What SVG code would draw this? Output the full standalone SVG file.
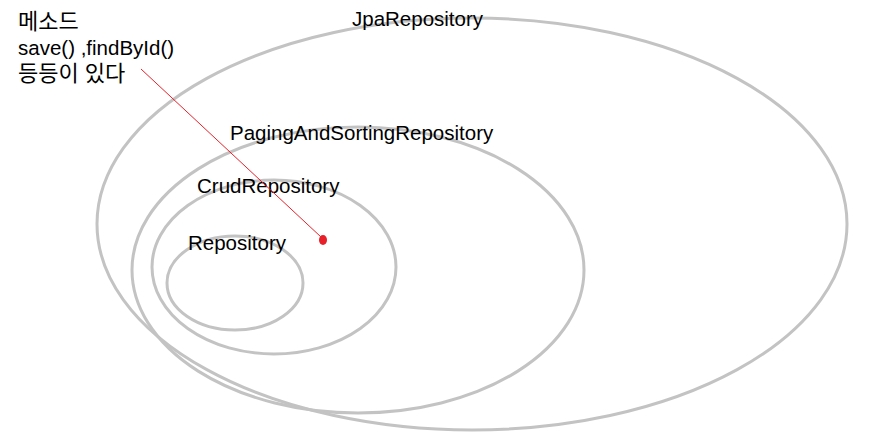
<svg xmlns="http://www.w3.org/2000/svg" width="869" height="441" viewBox="0 0 869 441">
<style>
.ring{fill:none;stroke:#c3c3c3;stroke-width:3}
.lbl{font-family:"Liberation Sans","Noto Sans CJK KR",sans-serif;font-size:20.5px;fill:#000}
.ko{font-size:22px}
</style>
<rect width="869" height="441" fill="#fff"/>
<g id="jpa"><ellipse class="ring" cx="472" cy="224" rx="375" ry="206"/><text class="lbl" x="352" y="26">JpaRepository</text></g>
<g id="paging"><ellipse class="ring" cx="358" cy="270" rx="226" ry="143"/><text class="lbl" x="230" y="140">PagingAndSortingRepository</text></g>
<g id="crud"><ellipse class="ring" cx="274" cy="267" rx="122" ry="87"/><text class="lbl" x="197" y="193">CrudRepository</text></g>
<g id="repo"><ellipse class="ring" cx="235" cy="283" rx="68" ry="47"/><text class="lbl" x="188" y="250">Repository</text></g>
<g id="note"><text class="lbl ko" x="18" y="29">메소드</text><text class="lbl" x="18" y="55">save() ,findById()</text><text class="lbl ko" x="18" y="81">등등이 있다</text></g>
<g id="connectors"><line x1="141" y1="69" x2="321" y2="237" stroke="#e8202a" stroke-width="1"/><ellipse cx="323" cy="240" rx="4" ry="5" fill="#e8202a"/></g>
</svg>
